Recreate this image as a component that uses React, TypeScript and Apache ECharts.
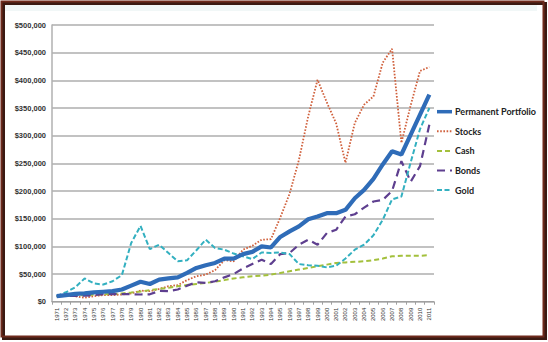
import React, { useEffect, useRef } from "react";
import * as echarts from "echarts";

const years: string[] = [];
for (let y = 1971; y <= 2011; y++) years.push(String(y));

const permanentPortfolio = [10000, 12000, 14000, 15000, 17000, 18000, 19000, 22000, 29000, 36000, 32000, 40000, 42000, 44000, 52000, 61000, 66000, 70000, 78000, 78000, 86000, 90000, 100000, 98000, 117000, 127000, 136000, 149000, 154000, 160000, 160000, 166000, 187000, 202000, 222000, 248000, 272000, 266000, 302000, 338000, 374000];
const stocks = [10000, 12000, 10000, 7000, 10000, 12000, 12000, 13000, 15000, 20000, 19000, 23000, 28000, 30000, 39000, 46000, 49000, 57000, 75000, 73000, 94000, 101000, 112000, 113000, 152000, 195000, 256000, 335000, 401000, 360000, 322000, 251000, 323000, 356000, 371000, 432000, 457000, 287000, 355000, 417000, 424000];
const cash = [10000, 10400, 11100, 12000, 12700, 13300, 14000, 15000, 16500, 18500, 21000, 23000, 25000, 28000, 30000, 32000, 34000, 36000, 39000, 42000, 44000, 46000, 47000, 49000, 52000, 55000, 58000, 61000, 64000, 67000, 70000, 71000, 72000, 73000, 75000, 78000, 82000, 83000, 83000, 83000, 84000];
const bonds = [10000, 10600, 10500, 11000, 11900, 13800, 13800, 13700, 13500, 13000, 13300, 19500, 19100, 22000, 29000, 35000, 34000, 37000, 44000, 50000, 60000, 68000, 76000, 68000, 86000, 88000, 103000, 112000, 103000, 124000, 130000, 154000, 158000, 170000, 181000, 184000, 200000, 254000, 217000, 245000, 320000];
const gold = [10000, 17000, 26000, 42000, 33000, 31000, 37000, 48000, 106000, 137000, 95000, 103000, 88000, 73000, 75000, 93000, 112000, 97000, 94000, 87000, 82000, 77000, 89000, 88000, 89000, 86000, 68000, 66000, 65000, 62000, 65000, 78000, 94000, 103000, 120000, 148000, 185000, 190000, 252000, 312000, 350000];

const seriesNames = ["Permanent Portfolio", "Stocks", "Cash", "Bonds", "Gold"];
const seriesData = [permanentPortfolio, stocks, cash, bonds, gold];
const seriesColors = ["#2f6cb8", "#d0603c", "#a3c03c", "#5e3f8f", "#33b0c0"];
const seriesWidths = [4.2, 1.8, 2, 2.2, 2];
const seriesDash: any[] = ["solid", [1.6, 1.6], [5, 3], [8, 5], [5, 2.5]];

export default function App() {
  const ref = useRef<HTMLDivElement>(null);
  useEffect(() => {
    document.body.style.margin = "0";
    if (!ref.current) return;
    const chart = echarts.init(ref.current, undefined, { renderer: "svg" });
    const fmt = (v: number) => "$" + v.toLocaleString("en-US");

    const legendItems: any[] = [];
    seriesNames.forEach((name, i) => {
      const y = 111.7 + i * 19.6;
      const dash = seriesDash[i];
      legendItems.push({
        type: "line",
        shape: { x1: 437, y1: y, x2: 452, y2: y },
        style: {
          stroke: seriesColors[i],
          lineWidth: i === 0 ? 3.5 : 2,
          lineDash: dash === "solid" ? null : dash,
        },
        z: 20,
      });
      legendItems.push({
        type: "text",
        x: 455,
        y,
        style: {
          text: name,
          fill: "#222",
          font: "bold 9px Lato",
          textVerticalAlign: "middle",
          verticalAlign: "middle",
        },
        z: 20,
      });
    });

    chart.setOption({
      animation: false,
      backgroundColor: "#ffffff",
      graphic: [
        { type: "rect", shape: { x: 3.5, y: 3.5, width: 542, height: 335 }, style: { fill: "none", stroke: "#3b1a12", lineWidth: 3 }, z: 10 },
        { type: "rect", shape: { x: 1.5, y: 1.5, width: 542, height: 335 }, style: { fill: "none", stroke: "#6e2a1c", lineWidth: 2 }, z: 11 },
        { type: "rect", shape: { x: 3, y: 3, width: 534, height: 8 }, style: { fill: "#f1f7f7" }, z: -1 },
        ...legendItems,
      ],
      grid: { left: 52, right: 114, top: 25, bottom: 40.3, containLabel: false },
      xAxis: {
        type: "category",
        data: years,
        boundaryGap: true,
        axisLine: { lineStyle: { color: "#a0a0a0", width: 1 } },
        axisTick: { show: true, interval: 0, length: 3, lineStyle: { color: "#a0a0a0" } },
        axisLabel: { interval: 0, rotate: 90, fontSize: 6, fontFamily: "Liberation Sans", color: "#333", margin: 6 },
      },
      yAxis: {
        type: "value",
        min: 0,
        max: 500000,
        interval: 50000,
        axisLine: { show: true, lineStyle: { color: "#b0b0b0", width: 1.5 } },
        axisTick: { show: false },
        splitLine: { lineStyle: { color: "#c2c2c2", width: 1.8 } },
        axisLabel: { formatter: fmt, fontSize: 7.5, fontWeight: "bold", fontFamily: "Liberation Sans", color: "#333", margin: 6 },
      },
      series: seriesNames.map((name, i) => ({
        name,
        type: "line",
        data: seriesData[i],
        symbol: "none",
        showSymbol: false,
        z: i === 0 ? 5 : 3,
        lineStyle: { color: seriesColors[i], width: seriesWidths[i], type: seriesDash[i], cap: "butt" },
        itemStyle: { color: seriesColors[i] },
      })),
    });
    return () => chart.dispose();
  }, []);
  return <div ref={ref} style={{ width: 548, height: 342 }} />;
}
